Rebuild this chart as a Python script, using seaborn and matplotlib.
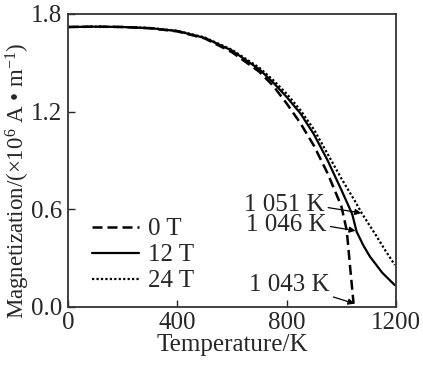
import numpy as np
import pandas as pd
import matplotlib
matplotlib.use("Agg")
import matplotlib.pyplot as plt
import seaborn as sns

# curves (T in K, M in 10^6 A/m)
t_0T = [0, 100, 200, 300, 400, 500, 600, 700, 750, 800, 850, 900, 950, 1000, 1020, 1032, 1045]
m_0T = [1.72, 1.722, 1.72, 1.712, 1.693, 1.65, 1.565, 1.445, 1.36, 1.25, 1.13, 0.99, 0.82, 0.62, 0.47, 0.25, 0.02]

t_12T = [0, 100, 200, 300, 400, 500, 600, 700, 750, 800, 850, 900, 950, 1000, 1040, 1056, 1080, 1105, 1150, 1195]
m_12T = [1.72, 1.722, 1.72, 1.713, 1.695, 1.653, 1.575, 1.46, 1.38, 1.29, 1.19, 1.06, 0.90, 0.72, 0.57, 0.463, 0.38, 0.309, 0.21, 0.135]

t_24T = [0, 100, 200, 300, 400, 500, 600, 700, 750, 800, 850, 900, 950, 1000, 1050, 1075, 1100, 1130, 1160, 1196]
m_24T = [1.72, 1.722, 1.72, 1.714, 1.697, 1.656, 1.58, 1.47, 1.395, 1.31, 1.21, 1.09, 0.94, 0.79, 0.65, 0.576, 0.51, 0.432, 0.35, 0.258]

labels = ["0 T", "12 T", "24 T"]
curie_labels = ["1 051 K", "1 046 K", "1 043 K"]

sns.set_style("ticks")
plt.rcParams['font.family'] = ['Liberation Serif', 'DejaVu Serif']
plt.rcParams['mathtext.fontset'] = 'custom'
plt.rcParams['mathtext.rm'] = 'Liberation Serif'
plt.rcParams['mathtext.it'] = 'Liberation Serif:italic'
fs = 18
plt.rcParams['font.size'] = fs

fig = plt.figure(figsize=(4.23, 3.68), dpi=100)
ax = fig.add_axes([0.161, 0.166, 0.775, 0.796])

sns.lineplot(x=t_0T, y=m_0T, ax=ax, color='k', lw=1.8, linestyle=(0, (4, 2)), label=labels[0])
sns.lineplot(x=t_12T, y=m_12T, ax=ax, color='k', lw=1.6, linestyle='-', label=labels[1])
sns.lineplot(x=t_24T, y=m_24T, ax=ax, color='k', lw=1.6, linestyle=(0, (1, 1)), label=labels[2])

ax.set_xlim(0, 1200)
ax.set_ylim(0, 1.8)
ax.set_xticks([0, 400, 800, 1200])
ax.set_yticks([0.0, 0.6, 1.2, 1.8])
ax.set_yticklabels(["0.0", "0.6", "1.2", "1.8"])
ax.tick_params(direction='in', length=5, width=1, top=False, right=False, labelsize=fs, pad=4)
for s in ax.spines.values():
    s.set_linewidth(1.3)
    s.set_color('#333333')

ax.set_xlabel("Temperature/K", fontsize=fs, labelpad=0)
ax.set_ylabel("Magnetization/(×10$^{6}$ A • m$^{-1}$)", fontsize=16.5, labelpad=2)
ax.yaxis.set_label_coords(-0.11, 0.43)

leg = ax.legend(loc='lower left', bbox_to_anchor=(0.072, 0.05), frameon=False,
                handlelength=1.9, handletextpad=0.35, labelspacing=0.14,
                borderpad=0, borderaxespad=0, fontsize=fs)

arrow = dict(arrowstyle='-|>', color='k', lw=0.9, mutation_scale=9, shrinkA=0, shrinkB=0)
ax.annotate(curie_labels[0], xy=(1073, 0.577), xytext=(940, 0.627), ha='right', va='center',
            arrowprops=dict(arrow, relpos=(1, 0.4)))
ax.annotate(curie_labels[1], xy=(1052, 0.468), xytext=(948, 0.504), ha='right', va='center',
            arrowprops=dict(arrow, relpos=(1, 0.45)))
ax.annotate(curie_labels[2], xy=(1048, 0.02), xytext=(959, 0.135), ha='right', va='center',
            arrowprops=dict(arrow, relpos=(1, 0.0)))

fig.savefig("out.png", dpi=100)
